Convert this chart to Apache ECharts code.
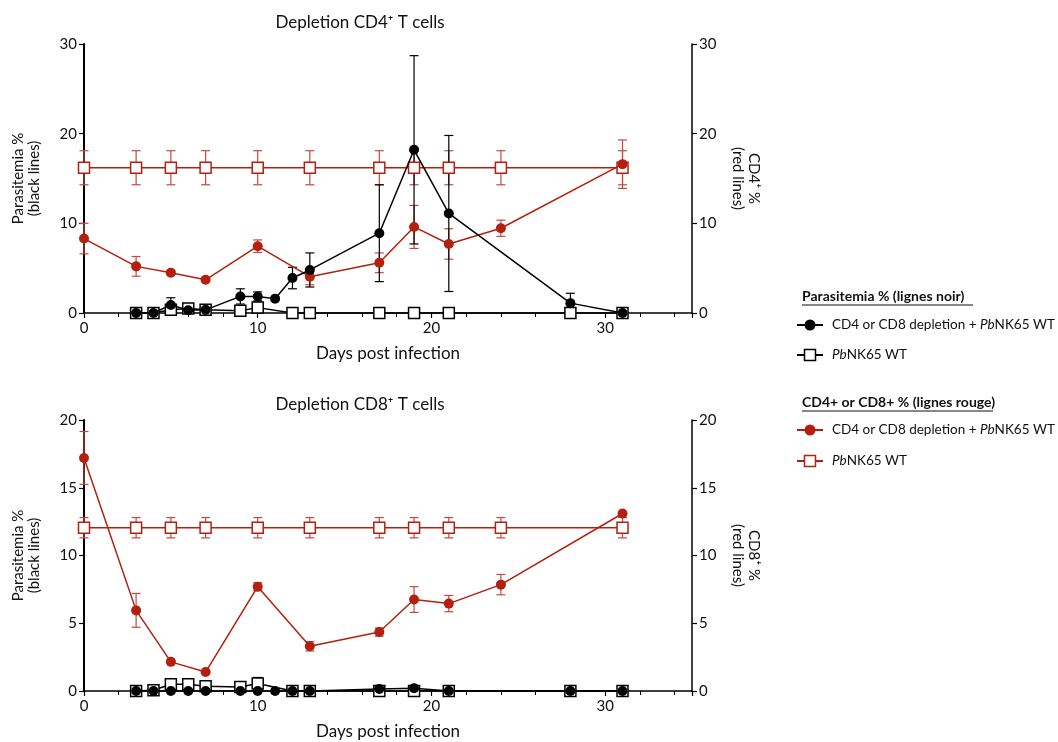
<!DOCTYPE html>
<html>
<head>
<meta charset="utf-8">
<script src="https://cdn.jsdelivr.net/npm/echarts@6/dist/echarts.min.js"></script>
<style>
  html, body { margin: 0; padding: 0; background: #fff; }
  #chart { width: 1058px; height: 742px; }
</style>
</head>
<body>
<div id="chart"></div>
<script>
// ---- data (days post infection / values / SEM) ----
// top panel: CD4 depletion
var cd4BlackDays = [3, 4, 5, 6, 7, 9, 10, 11, 12, 13, 17, 19, 21, 28, 31];
var cd4BlackVals = [0, 0, 0.9, 0.3, 0.35, 1.85, 1.85, 1.6, 3.9, 4.8, 8.9, 18.2, 11.1, 1.1, 0];
var cd4BlackErr  = [0, 0, 0.8, 0.1, 0.1, 0.85, 0.5, 0, 1.2, 1.9, 5.4, 10.5, 8.7, 1.1, 0];

var cd4WtDays = [3, 4, 5, 6, 7, 9, 10, 12, 13, 17, 19, 21, 28, 31];
var cd4WtVals = [0, 0, 0.35, 0.5, 0.35, 0.25, 0.6, 0, 0, 0, 0, 0, 0, 0];
var cd4WtErr  = [0, 0, 0.2, 0.2, 0.1, 0.1, 0.6, 0, 0, 0, 0, 0, 0, 0];

var cd4RedDays = [0, 3, 5, 7, 10, 13, 17, 19, 21, 24, 31];
var cd4RedVals = [8.3, 5.2, 4.5, 3.7, 7.45, 4.05, 5.6, 9.6, 7.7, 9.45, 16.6];
var cd4RedErr  = [1.7, 1.1, 0.2, 0.2, 0.7, 0.9, 1.1, 2.4, 1.7, 0.9, 2.7];

var cd4RedWtDays = [0, 3, 5, 7, 10, 13, 17, 19, 21, 24, 31];
var cd4RedWtVals = [16.2, 16.2, 16.2, 16.2, 16.2, 16.2, 16.2, 16.2, 16.2, 16.2, 16.2];
var cd4RedWtErr  = [1.9, 1.9, 1.9, 1.9, 1.9, 1.9, 1.9, 1.9, 1.9, 1.9, 1.9];

// bottom panel: CD8 depletion
var cd8BlackDays = [3, 4, 5, 6, 7, 9, 10, 11, 12, 13, 17, 19, 21, 28, 31];
var cd8BlackVals = [0, 0, 0, 0, 0, 0, 0, 0, 0, 0, 0.15, 0.2, 0, 0, 0];
var cd8BlackErr  = [0, 0, 0, 0, 0, 0, 0, 0, 0, 0, 0.05, 0.05, 0, 0, 0];

var cd8WtDays = [3, 4, 5, 6, 7, 9, 10, 12, 13, 17, 19, 21, 28, 31];
var cd8WtVals = [0, 0.05, 0.5, 0.5, 0.35, 0.3, 0.55, 0, 0, 0, 0, 0, 0, 0];
var cd8WtErr  = [0, 0, 0.3, 0.3, 0.1, 0.1, 0.45, 0, 0, 0, 0, 0, 0, 0];

var cd8RedDays = [0, 3, 5, 7, 10, 13, 17, 19, 21, 24, 31];
var cd8RedVals = [17.2, 5.95, 2.15, 1.4, 7.7, 3.3, 4.35, 6.75, 6.45, 7.85, 13.1];
var cd8RedErr  = [1.95, 1.25, 0.1, 0.1, 0.3, 0.35, 0.3, 0.95, 0.6, 0.75, 0];

var cd8RedWtDays = [0, 3, 5, 7, 10, 13, 17, 19, 21, 24, 31];
var cd8RedWtVals = [12.05, 12.05, 12.05, 12.05, 12.05, 12.05, 12.05, 12.05, 12.05, 12.05, 12.05];
var cd8RedWtErr  = [0.75, 0.75, 0.75, 0.75, 0.75, 0.75, 0.75, 0.75, 0.75, 0.75, 0.75];

var xTicks = [0, 10, 20, 30];

// ---- styles ----
var FONT = 'Lato';
var RED = '#b3200f';
var RED_ERR = '#c4493d';
var BLACK = '#000';

function pairs(days, vals) {
  return days.map(function (d, i) { return [d, vals[i]]; });
}
function errs(days, vals, err) {
  var out = [];
  for (var i = 0; i < days.length; i++) {
    if (err[i] > 0) out.push([days[i], vals[i] - err[i], vals[i] + err[i]]);
  }
  return out;
}

function lineSeries(name, data, xi, yi, color, filled) {
  return {
    name: name, type: 'line', data: data,
    xAxisIndex: xi, yAxisIndex: yi,
    symbol: filled ? 'circle' : 'rect',
    symbolSize: filled ? 10 : 11,
    showAllSymbol: true,
    lineStyle: { color: color, width: 1.5 },
    itemStyle: { color: filled ? color : '#fff', borderColor: color, borderWidth: filled ? 0 : 1.5 },
    emphasis: { disabled: true },
    clip: false, z: filled ? 4 : 3,
    animation: false
  };
}

function errSeries(data, xi, yi, color) {
  return {
    type: 'custom', data: data, xAxisIndex: xi, yAxisIndex: yi,
    encode: { x: 0, y: [1, 2] }, z: 2, clip: false, animation: false,
    renderItem: function (params, api) {
      var x = api.value(0);
      var lo = api.coord([x, api.value(1)]);
      var hi = api.coord([x, api.value(2)]);
      var cap = 4.5;
      var st = { stroke: color, lineWidth: 1.2 };
      return {
        type: 'group',
        children: [
          { type: 'line', shape: { x1: lo[0], y1: lo[1], x2: hi[0], y2: hi[1] }, style: st },
          { type: 'line', shape: { x1: hi[0] - cap, y1: hi[1], x2: hi[0] + cap, y2: hi[1] }, style: st },
          { type: 'line', shape: { x1: lo[0] - cap, y1: lo[1], x2: lo[0] + cap, y2: lo[1] }, style: st }
        ]
      };
    }
  };
}

function xAxis(gi) {
  return {
    type: 'value', gridIndex: gi, min: 0, max: 35, interval: 10,
    name: 'Days post infection', nameLocation: 'middle', nameGap: 32,
    nameTextStyle: { fontFamily: FONT, fontSize: 17, color: '#111' },
    axisLine: { show: true, onZero: false, lineStyle: { color: BLACK, width: 1.5 } },
    axisTick: { show: true, length: 5, lineStyle: { color: BLACK, width: 1.2 } },
    minorTick: { show: true, splitNumber: 5, length: 4, lineStyle: { color: BLACK, width: 1 } },
    splitLine: { show: false },
    axisLabel: {
      fontFamily: FONT, fontSize: 15, color: '#111', margin: 8,
      formatter: function (v) { return xTicks.indexOf(v) >= 0 ? String(v) : ''; }
    }
  };
}

function yAxis(gi, pos, max, step, name, gap, rot) {
  return {
    type: 'value', gridIndex: gi, position: pos, min: 0, max: max, interval: step,
    name: name, nameLocation: 'middle', nameGap: gap, nameRotate: rot,
    nameTextStyle: { fontFamily: FONT, fontSize: 15, color: '#111', lineHeight: 16 },
    axisLine: { show: true, onZero: false, lineStyle: { color: BLACK, width: pos === 'left' ? 2 : 1.5 } },
    axisTick: { show: true, length: 5, lineStyle: { color: BLACK, width: 1.2 } },
    splitLine: { show: false },
    axisLabel: { fontFamily: FONT, fontSize: 15, color: '#111', margin: 7 }
  };
}

// ---- legend drawn at right ----
function legendItem(y, color, filled, label) {
  var items = [
    { type: 'line', shape: { x1: 797, y1: y, x2: 823, y2: y }, style: { stroke: color, lineWidth: 2 } },
    filled
      ? { type: 'circle', shape: { cx: 810, cy: y, r: 5.5 }, style: { fill: color } }
      : { type: 'rect', shape: { x: 804.5, y: y - 5.5, width: 11, height: 11 }, style: { fill: '#fff', stroke: color, lineWidth: 1.5 } },
    {
      type: 'text', x: 832, y: y,
      style: {
        text: label, fontFamily: FONT, fontSize: 13.5, fill: '#111', verticalAlign: 'middle',
        rich: { i: { fontStyle: 'italic', fontFamily: FONT, fontSize: 13.5, fill: '#111' } }
      }
    }
  ];
  return items;
}
function legendHeader(y, text, width) {
  return [
    { type: 'text', x: 802, y: y, style: { text: text, fontFamily: FONT, fontSize: 14, fontWeight: 'bold', fill: '#111', verticalAlign: 'middle' } },
    { type: 'line', shape: { x1: 802, y1: y + 9, x2: 802 + width, y2: y + 9 }, style: { stroke: '#111', lineWidth: 1.2 } }
  ];
}

var graphics = [].concat(
  legendHeader(296, 'Parasitemia % (lignes noir)', 171),
  legendItem(325, BLACK, true, 'CD4 or CD8 depletion + {i|Pb}NK65 WT'),
  legendItem(355, BLACK, false, '{i|Pb}NK65 WT'),
  legendHeader(402, 'CD4+ or CD8+ % (lignes rouge)', 191),
  legendItem(430, RED, true, 'CD4 or CD8 depletion + {i|Pb}NK65 WT'),
  legendItem(461, RED, false, '{i|Pb}NK65 WT')
);

var option = {
  backgroundColor: '#fff',
  animation: false,
  title: [
    { text: 'Depletion CD4\u207A T cells', left: 355, top: 9, textAlign: 'center',
      textStyle: { fontFamily: FONT, fontSize: 17, fontWeight: 'normal', color: '#111' } },
    { text: 'Depletion CD8\u207A T cells', left: 355, top: 391, textAlign: 'center',
      textStyle: { fontFamily: FONT, fontSize: 17, fontWeight: 'normal', color: '#111' } }
  ],
  grid: [
    { left: 84, top: 44, width: 608, height: 269 },
    { left: 84, top: 420, width: 608, height: 271 }
  ],
  xAxis: [xAxis(0), xAxis(1)],
  yAxis: [
    yAxis(0, 'left', 30, 10, 'Parasitemia %\n(black lines)', 42, 90),
    yAxis(0, 'right', 30, 10, 'CD4\u207A %\n(red lines)', 38, -90),
    yAxis(1, 'left', 20, 5, 'Parasitemia %\n(black lines)', 42, 90),
    yAxis(1, 'right', 20, 5, 'CD8\u207A %\n(red lines)', 38, -90)
  ],
  series: [
    // top panel
    errSeries(errs(cd4RedWtDays, cd4RedWtVals, cd4RedWtErr), 0, 1, RED_ERR),
    errSeries(errs(cd4RedDays, cd4RedVals, cd4RedErr), 0, 1, RED_ERR),
    lineSeries('CD4+ % PbNK65 WT', pairs(cd4RedWtDays, cd4RedWtVals), 0, 1, RED, false),
    lineSeries('CD4+ % depletion', pairs(cd4RedDays, cd4RedVals), 0, 1, RED, true),
    errSeries(errs(cd4WtDays, cd4WtVals, cd4WtErr), 0, 0, BLACK),
    errSeries(errs(cd4BlackDays, cd4BlackVals, cd4BlackErr), 0, 0, BLACK),
    lineSeries('Parasitemia PbNK65 WT', pairs(cd4WtDays, cd4WtVals), 0, 0, BLACK, false),
    lineSeries('Parasitemia depletion', pairs(cd4BlackDays, cd4BlackVals), 0, 0, BLACK, true),
    // bottom panel
    errSeries(errs(cd8RedWtDays, cd8RedWtVals, cd8RedWtErr), 1, 3, RED_ERR),
    errSeries(errs(cd8RedDays, cd8RedVals, cd8RedErr), 1, 3, RED_ERR),
    lineSeries('CD8+ % PbNK65 WT', pairs(cd8RedWtDays, cd8RedWtVals), 1, 3, RED, false),
    lineSeries('CD8+ % depletion', pairs(cd8RedDays, cd8RedVals), 1, 3, RED, true),
    errSeries(errs(cd8WtDays, cd8WtVals, cd8WtErr), 1, 2, BLACK),
    errSeries(errs(cd8BlackDays, cd8BlackVals, cd8BlackErr), 1, 2, BLACK),
    lineSeries('Parasitemia PbNK65 WT (CD8)', pairs(cd8WtDays, cd8WtVals), 1, 2, BLACK, false),
    lineSeries('Parasitemia depletion (CD8)', pairs(cd8BlackDays, cd8BlackVals), 1, 2, BLACK, true)
  ],
  graphic: graphics
};

var myChart = echarts.init(document.getElementById('chart'));
myChart.setOption(option);
</script>
</body>
</html>
